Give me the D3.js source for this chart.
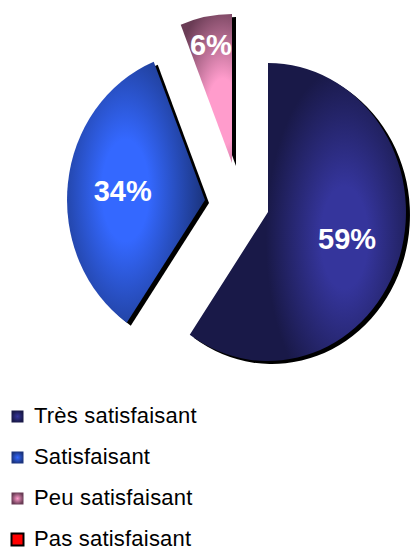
<!DOCTYPE html>
<html>
<head>
<meta charset="utf-8">
<script src="https://cdn.jsdelivr.net/npm/d3@7"></script>
<style>
  body { margin: 0; background: #fff; }
  text { font-family: "Liberation Sans", Arial, sans-serif; }
</style>
</head>
<body>
<script>
"use strict";
(function(){
  // data
  const categories = ["Très satisfaisant", "Satisfaisant", "Peu satisfaisant", "Pas satisfaisant"]
  const values = [59, 34, 6, 0]
  const lightColors = ["#35359c", "#3468ff", "#ff9ccc", "#ff0000"]
  const darkColors = ["#191948", "#1b347e", "#6a3c55", "#ff0000"]

  let m = { width: 410, height: 552 }
  let cx = 228, cy = 199, R = 149, sx = 0.926
  // how far each slice is pulled out of the pie
  let explode = [[40, 13], [-23, 1], [4, -36], [0, 0]]

  const svg = d3.select("body").append("svg")
      .attr("width", m.width)
      .attr("height", m.height)
  const defs = svg.append("defs")

  let pie = d3.pie().sort(null).value(d => d)
  let arcs = pie(values)
  let arc = d3.arc().innerRadius(0).outerRadius(R)
  let isSmall = d => (d.endAngle - d.startAngle) < 0.5

  // one gradient per slice, lit around the middle of the slice
  arcs.forEach(function(d, i){
    let gr = isSmall(d) ? R * 0.35 : R * 0.58
    let c = d3.arc().innerRadius(gr).outerRadius(gr).centroid(d)
    let g = defs.append("radialGradient")
        .attr("id", "grad" + i)
        .attr("gradientUnits", "userSpaceOnUse")
        .attr("cx", c[0]).attr("cy", c[1])
        .attr("r", isSmall(d) ? R * 0.62 : R * 0.95)
        .attr("gradientTransform", "translate(" + c[0] + "," + c[1] + ") scale(0.6,1.2) translate(" + (-c[0]) + "," + (-c[1]) + ")")
    g.append("stop").attr("offset", "0%").attr("stop-color", lightColors[i])
    g.append("stop").attr("offset", "30%").attr("stop-color", lightColors[i])
    g.append("stop").attr("offset", "100%").attr("stop-color", darkColors[i])
    defs.append("clipPath").attr("id", "clip" + i)
      .append("path")
        .attr("transform", "translate(" + (cx + explode[i][0]) + "," + (cy + explode[i][1]) + ") scale(" + sx + ",1)")
        .attr("d", arc(d))
  })

  let shown = arcs.filter(d => d.value > 0)

  // shadows
  svg.append("g").selectAll("path")
    .data(shown)
    .enter()
    .append("path")
      .attr("transform", d => "translate(" + (cx + explode[d.index][0] + 4) + "," + (cy + explode[d.index][1] + 3) + ") scale(" + sx + ",1)")
      .attr("d", arc)
      .attr("fill", "#000")

  // slices
  svg.append("g").selectAll("path")
    .data(shown)
    .enter()
    .append("path")
      .attr("transform", d => "translate(" + (cx + explode[d.index][0]) + "," + (cy + explode[d.index][1]) + ") scale(" + sx + ",1)")
      .attr("d", arc)
      .attr("fill", d => "url(#grad" + d.index + ")")

  // percentage labels
  function labelPos(d) {
    let lr = isSmall(d) ? R * 0.81 : R * 0.6
    let c = d3.arc().innerRadius(lr).outerRadius(lr).centroid(d)
    return [cx + explode[d.index][0] + c[0] * sx, cy + explode[d.index][1] + c[1]]
  }
  svg.append("g").selectAll("text")
    .data(shown)
    .enter()
    .append("text")
      .attr("clip-path", d => "url(#clip" + d.index + ")")
      .attr("x", d => labelPos(d)[0])
      .attr("y", d => labelPos(d)[1])
      .attr("dy", "0.36em")
      .attr("text-anchor", "middle")
      .attr("font-size", "29px")
      .attr("font-weight", "bold")
      .attr("fill", "#fff")
      .text(d => d.value + "%")

  // legend
  categories.forEach(function(c, i){
    let g = defs.append("radialGradient").attr("id", "lg" + i)
    g.append("stop").attr("offset", "0%").attr("stop-color", lightColors[i])
    g.append("stop").attr("offset", "100%").attr("stop-color", darkColors[i])
  })
  let legend = svg.append("g").selectAll("g")
    .data(categories)
    .enter()
    .append("g")
      .attr("transform", (d, i) => "translate(11," + (410 + i * 41) + ")")
  legend.append("rect")
      .attr("x", 0.5).attr("y", 0.5)
      .attr("width", 12).attr("height", 12)
      .attr("fill", (d, i) => i == 3 ? "#ff0000" : "url(#lg" + i + ")")
      .attr("stroke", (d, i) => i == 3 ? "#000" : "none")
      .attr("stroke-width", 2)
  legend.append("text")
      .attr("x", 23)
      .attr("y", 13)
      .attr("font-size", "22px")
      .attr("letter-spacing", "0.2px")
      .attr("fill", "#000")
      .text(d => d)
})();
</script>
</body>
</html>
